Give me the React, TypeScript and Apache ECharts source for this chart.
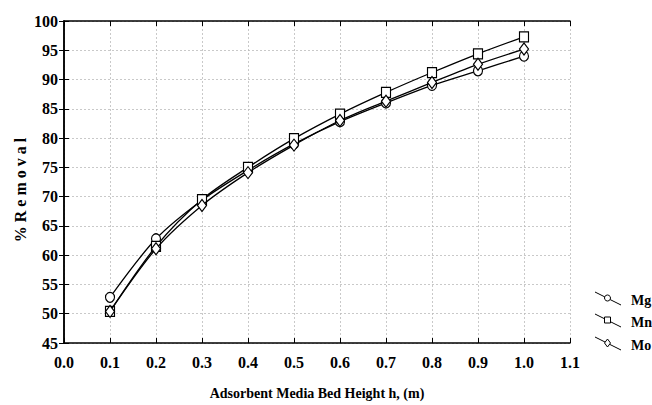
import React, { useEffect, useRef } from "react";
import * as echarts from "echarts";

const xValues = [0.1, 0.2, 0.3, 0.4, 0.5, 0.6, 0.7, 0.8, 0.9, 1.0];
const mgValues = [52.8, 62.8, 69.4, 74.5, 79.0, 82.8, 86.0, 89.0, 91.5, 94.0];
const mnValues = [50.4, 61.5, 69.5, 75.0, 79.9, 84.1, 87.8, 91.2, 94.4, 97.3];
const moValues = [50.4, 61.1, 68.5, 74.1, 78.8, 83.0, 86.3, 89.5, 92.6, 95.2];
const seriesNames = ["Mg", "Mn", "Mo"];
const seriesSymbols = ["circle", "rect", "diamond"];

const FONT = "'Liberation Serif', 'Times New Roman', serif";

export default function App() {
  const ref = useRef<HTMLDivElement>(null);
  useEffect(() => {
    if (!ref.current) return;
    const chart = echarts.init(ref.current, undefined, { renderer: "svg" });
    const datas = [mgValues, mnValues, moValues];
    const series = datas.map((d, i) => ({
      name: seriesNames[i],
      type: "line",
      smooth: 0.3,
      data: d.map((v, j) => [xValues[j], v]),
      symbol: seriesSymbols[i],
      symbolSize: i === 2 ? [9, 12] : [9, 10],
      showSymbol: true,
      lineStyle: { color: "#000", width: 1.3 },
      itemStyle: { color: "#fff", borderColor: "#000", borderWidth: 1.2 },
      z: 3 + i,
    }));

    const legendGraphics: any[] = [];
    const rows = [300, 322, 345];
    rows.forEach((y, i) => {
      legendGraphics.push({
        type: "line",
        shape: { x1: 595, y1: y - 8, x2: 621, y2: y + 5 },
        style: { stroke: "#000", lineWidth: 1 },
      });
      const cx = 607.5, cy = y - 2;
      if (i === 0) {
        legendGraphics.push({ type: "circle", shape: { cx, cy, r: 3 }, style: { fill: "#fff", stroke: "#000", lineWidth: 1 } });
      } else if (i === 1) {
        legendGraphics.push({ type: "rect", shape: { x: cx - 3, y: cy - 3, width: 6, height: 6 }, style: { fill: "#fff", stroke: "#000", lineWidth: 1 } });
      } else {
        legendGraphics.push({ type: "polygon", shape: { points: [[cx, cy - 4], [cx + 3, cy], [cx, cy + 4], [cx - 3, cy]] }, style: { fill: "#fff", stroke: "#000", lineWidth: 1 } });
      }
      legendGraphics.push({
        type: "text",
        x: 631,
        y,
        style: { text: seriesNames[i], font: `bold 14px ${FONT}`, fill: "#000", verticalAlign: "middle", textAlign: "left" },
      });
    });
    legendGraphics.push({
      type: "text",
      x: 20,
      y: 190,
      rotation: Math.PI / 2,
      style: { text: "% R e m o v a l", font: `bold 16px ${FONT}`, fill: "#000", verticalAlign: "middle", textAlign: "center" },
    });

    chart.setOption({
      animation: false,
      backgroundColor: "#fff",
      grid: { left: 64, right: 82, top: 21, bottom: 60, containLabel: false },
      xAxis: [
        {
          type: "value",
          min: 0,
          max: 1.1,
          interval: 0.1,
          name: "Adsorbent Media Bed Height h, (m)",
          nameLocation: "middle",
          nameGap: 43,
          nameTextStyle: { fontFamily: FONT, fontWeight: "bold", fontSize: 14, color: "#000" },
          axisLine: { show: true, lineStyle: { color: "#000", width: 1.5 } },
          axisTick: { show: true, inside: true, length: 5, lineStyle: { color: "#000" } },
          axisLabel: {
            fontFamily: FONT,
            fontWeight: "bold",
            fontSize: 16,
            color: "#000",
            margin: 11,
            formatter: (v: number) => v.toFixed(1),
          },
          splitLine: { show: true, lineStyle: { color: "#bbb", type: [2, 2], width: 0.8 } },
        },
        {
          type: "value",
          position: "top",
          min: 0,
          max: 1.1,
          interval: 0.1,
          axisLine: { show: true, lineStyle: { color: "#000", width: 1.5 } },
          axisTick: { show: true, inside: true, length: 5, lineStyle: { color: "#000" } },
          axisLabel: { show: false },
          splitLine: { show: false },
        },
      ],
      yAxis: [
        {
          type: "value",
          min: 45,
          max: 100,
          interval: 5,
          axisLine: { show: true, lineStyle: { color: "#000", width: 1.5 } },
          axisTick: { show: true, inside: true, length: 5, lineStyle: { color: "#000" } },
          axisLabel: { fontFamily: FONT, fontWeight: "bold", fontSize: 16, color: "#000", margin: 6 },
          splitLine: { show: true, lineStyle: { color: "#bbb", type: [2, 2], width: 0.8 } },
        },
        {
          type: "value",
          position: "right",
          min: 45,
          max: 100,
          interval: 5,
          axisLine: { show: true, lineStyle: { color: "#000", width: 1.5 } },
          axisTick: { show: true, inside: true, length: 5, lineStyle: { color: "#000" } },
          axisLabel: { show: false },
          splitLine: { show: false },
        },
      ],
      series,
      graphic: legendGraphics,
    });
    return () => chart.dispose();
  }, []);
  return <div ref={ref} style={{ width: 652, height: 405, position: "absolute", left: 0, top: 0 }} />;
}
